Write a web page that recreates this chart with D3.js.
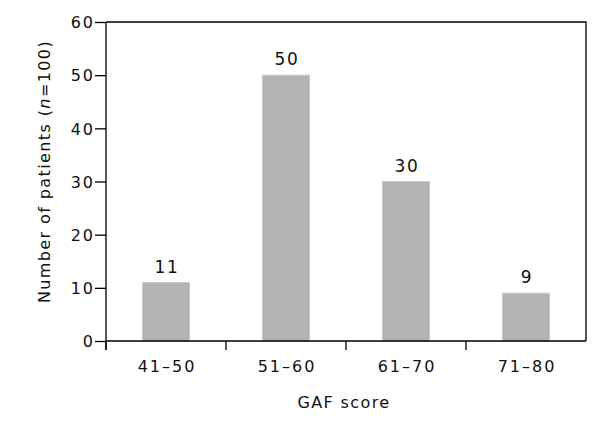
<!DOCTYPE html>
<meta charset="utf-8">
<html>
  <head>
    <style>
      body { margin: 0; background: #fff; }
      text {
        font-family: "DejaVu Sans", sans-serif;
        fill: #111;
      }
      .axis path, .axis line { stroke: #000; stroke-width: 1.3px; }
      .axis text { font-size: 16px; letter-spacing: 2px; }
      rect.bar { fill: #b3b3b3; stroke: #c9c9c9; stroke-width: 1px; }
      text.val { font-size: 17px; letter-spacing: 1.8px; }
      text.title { font-size: 16px; letter-spacing: 1.4px; }
    </style>
    <script src="https://cdn.jsdelivr.net/npm/d3@7"></script>
  </head>
  <body>
    <div id="chart"></div>
    <script>
    // data
    var categories = ["41\u201350", "51\u201360", "61\u201370", "71\u201380"];
    var patients = [11, 50, 30, 9];
    var yTicks = [0, 10, 20, 30, 40, 50, 60];

    var W = 611, H = 427;
    var margin = { top: 22, right: 25, bottom: 86, left: 106 };
    var width = W - margin.left - margin.right,
        height = H - margin.top - margin.bottom;

    var svg = d3.select("#chart").append("svg")
      .attr("width", W)
      .attr("height", H);

    var g = svg.append("g")
      .attr("transform", "translate(" + margin.left + "," + margin.top + ")");

    var x = d3.scaleBand()
      .domain(categories)
      .range([0, width])
      .paddingInner(0.6)
      .paddingOuter(0.3);

    var y = d3.scaleLinear()
      .domain([0, 60])
      .range([height, 0]);

    // frame (top and right)
    g.append("path")
      .attr("d", "M0,0H" + width + "V" + height)
      .attr("fill", "none")
      .attr("stroke", "#000")
      .attr("stroke-width", 1.3);

    // bars
    g.selectAll(".bar")
      .data(patients)
      .enter()
      .append("rect")
      .attr("class", "bar")
      .attr("x", function(d, i) { return x(categories[i]) + 0.5; })
      .attr("y", function(d) { return y(d); })
      .attr("width", x.bandwidth() - 1)
      .attr("height", function(d) { return height - y(d); });

    g.selectAll(".val")
      .data(patients)
      .enter()
      .append("text")
      .attr("class", "val")
      .attr("x", function(d, i) { return x(categories[i]) + x.bandwidth() / 2 + 1; })
      .attr("y", function(d) { return y(d) - 10; })
      .attr("text-anchor", "middle")
      .text(function(d) { return d; });

    // y axis
    var yAxis = g.append("g")
      .attr("class", "axis")
      .call(d3.axisLeft(y).tickValues(yTicks).tickSize(11).tickPadding(0).tickSizeOuter(0));
    yAxis.select(".domain").remove();
    yAxis.append("line")
      .attr("x1", 0).attr("x2", 0)
      .attr("y1", 0).attr("y2", height + 9);
    yAxis.selectAll(".tick text").attr("dy", "0.36em");

    // x axis: ticks at band boundaries
    var xAxis = g.append("g")
      .attr("class", "axis")
      .attr("transform", "translate(0," + height + ")");
    xAxis.append("line")
      .attr("x1", 0).attr("x2", width);
    var step = width / categories.length;
    xAxis.selectAll(".xt")
      .data(categories)
      .enter()
      .append("line")
      .attr("x1", function(d, i) { return i * step; })
      .attr("x2", function(d, i) { return i * step; })
      .attr("y1", 0).attr("y2", 9);
    xAxis.selectAll(".xl")
      .data(categories)
      .enter()
      .append("text")
      .attr("x", function(d) { return x(d) + x.bandwidth() / 2 + 1; })
      .attr("y", 31)
      .attr("text-anchor", "middle")
      .text(function(d) { return d; });

    // axis titles
    g.append("text")
      .attr("class", "title")
      .attr("x", width / 2 - 2)
      .attr("y", height + 67)
      .attr("text-anchor", "middle")
      .text("GAF score");

    var yt = g.append("text")
      .attr("class", "title")
      .attr("transform", "translate(-56," + (height / 2 - 10) + ") rotate(-90)")
      .attr("text-anchor", "middle");
    yt.append("tspan").text("Number of patients (");
    yt.append("tspan").style("font-style", "italic").text("n");
    yt.append("tspan").text("=100)");
    </script>
  </body>
</html>
